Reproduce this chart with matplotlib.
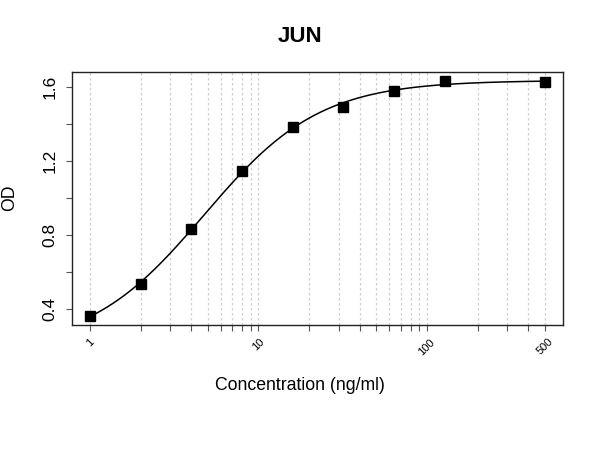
import numpy as np
import matplotlib
matplotlib.use("Agg")
import matplotlib.pyplot as plt
from matplotlib.ticker import FixedLocator, NullLocator

# ---- data ----
conc = [1, 2, 4, 8, 16, 32, 64, 128, 500]
od = [0.362, 0.533, 0.829, 1.143, 1.385, 1.494, 1.577, 1.632, 1.629]
title = "JUN"
xlabel = "Concentration (ng/ml)"
ylabel = "OD"
xtick_labels = [1, 10, 100, 500]
yticks = [0.4, 0.8, 1.2, 1.6]
yticks_minor = [0.6, 1.0, 1.4]

plt.rcParams['font.family'] = ['Liberation Sans', 'DejaVu Sans']

x = np.array(conc, float)
y = np.array(od, float)

# ---- 4PL fit (Levenberg-Marquardt) ----
def model(p, xx):
    a, d, lc, b = p
    return d + (a - d) / (1.0 + (xx / np.exp(lc)) ** b)

p = np.array([0.2, 1.64, np.log(6.0), 1.3])
lam = 1e-2
def sse(pp):
    r = y - model(pp, x)
    return float(r @ r)
cur = sse(p)
for _ in range(500):
    r = y - model(p, x)
    J = np.zeros((len(x), 4))
    for k in range(4):
        dp = np.zeros(4); h = 1e-6 * max(1.0, abs(p[k])); dp[k] = h
        J[:, k] = (model(p + dp, x) - model(p - dp, x)) / (2 * h)
    A = J.T @ J
    g = J.T @ r
    step = np.linalg.solve(A + lam * np.diag(np.diag(A) + 1e-12), g)
    newp = p + step
    new = sse(newp)
    if new < cur:
        p, cur = newp, new
        lam *= 0.3
    else:
        lam *= 5
    if lam > 1e8:
        break

xs = np.logspace(np.log10(x.min()), np.log10(x.max()), 400)
ys = model(p, xs)

# ---- figure ----
fig = plt.figure(figsize=(6, 4.5), dpi=100)
ax = fig.add_axes([0.1195, 0.2778, 0.8185, 0.5629])

ax.set_xscale('log')
lx0, lx1 = np.log10(x.min()), np.log10(x.max())
pad = 0.04 * (lx1 - lx0)
ax.set_xlim(10 ** (lx0 - pad), 10 ** (lx1 + pad))
ypad = 0.04 * (y.max() - y.min())
ax.set_ylim(y.min() - ypad, y.max() + ypad)

gridpos = [m * 10 ** e for e in range(0, 3) for m in range(1, 10) if m * 10 ** e <= 500]
ax.xaxis.set_major_locator(FixedLocator(gridpos))
ax.xaxis.set_minor_locator(NullLocator())
ax.set_xticklabels([])
for gx in gridpos:
    ax.axvline(gx, color='#cfcfcf', lw=0.9, ls=(0, (2, 2)), zorder=0)

for v in xtick_labels:
    ax.annotate(str(v), xy=(v, 0), xycoords=('data', 'axes fraction'),
                xytext=(0, -8.5), textcoords='offset points',
                rotation=45, ha='center', va='top', fontsize=8)

ax.set_yticks(sorted(yticks + yticks_minor))
ax.set_yticklabels([("%.1f" % t) if t in yticks else "" for t in sorted(yticks + yticks_minor)],
                   rotation=90, va='center', fontsize=12.5)

ax.tick_params(axis='x', length=4.5, width=0.8, color='#555555', direction='out')
ax.tick_params(axis='y', length=4.5, width=0.8, color='#555555', direction='out', pad=5.5)
for s in ax.spines.values():
    s.set_linewidth(1.0)
    s.set_color('#222222')

ax.plot(xs, ys, color='black', lw=1.1, zorder=2)
ax.plot(x, y, ls='none', marker='s', ms=7.2, color='black', zorder=3)

fig.text(0.5, 1 - 36 / 450, title, ha='center', va='center', fontsize=16, fontweight='bold')
fig.text(0.5, 1 - 386 / 450, xlabel, ha='center', va='center', fontsize=12.7)
fig.text(10 / 600, 1 - 198 / 450, ylabel, ha='center', va='center', fontsize=12.7, rotation=90)

fig.savefig('out.png', dpi=100)
